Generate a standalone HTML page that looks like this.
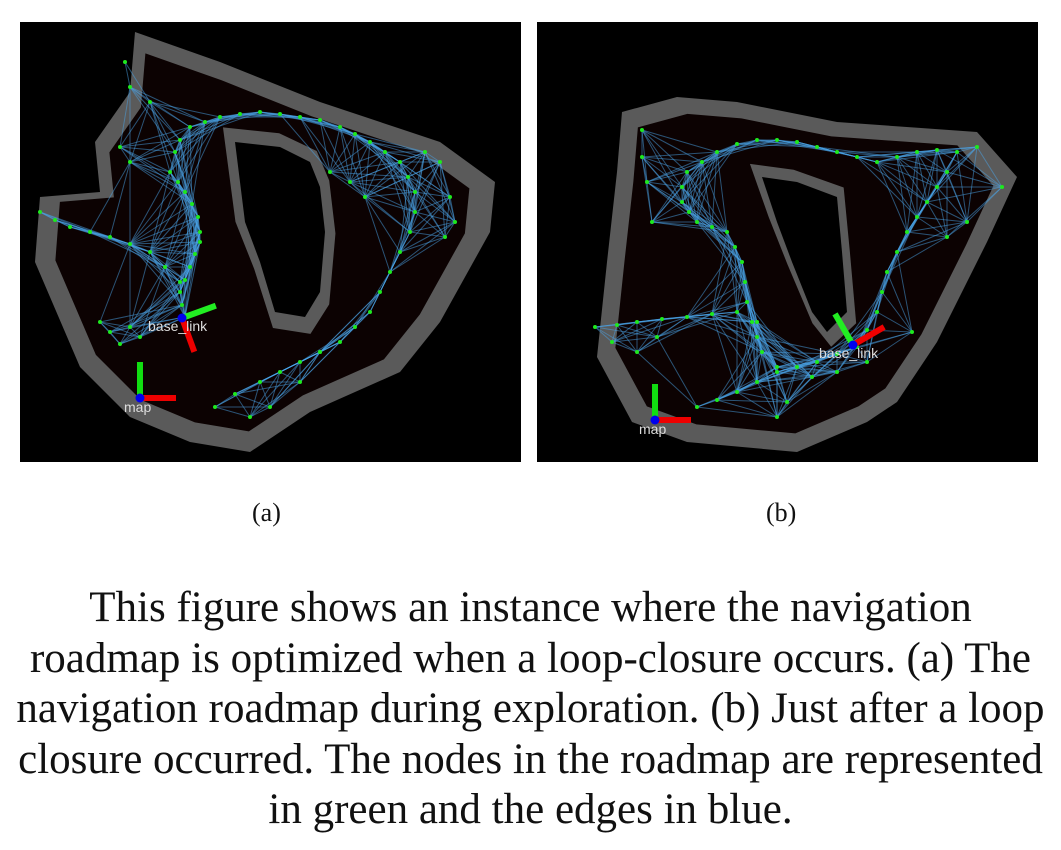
<!DOCTYPE html>
<html><head><meta charset="utf-8">
<style>
body{margin:0;background:#fff;width:1061px;height:850px;overflow:hidden;position:relative;font-family:"Liberation Serif",serif;}
.panel{position:absolute;top:22px;width:501px;height:440px;background:#000;}
.sub{position:absolute;top:498px;font-size:26px;color:#111;}
#caption{position:absolute;left:0;top:583px;width:1061px;text-align:center;font-size:43px;line-height:50.5px;color:#111;white-space:nowrap;}
</style></head><body>
<svg class="panel" id="pa" style="left:20px"></svg>
<svg class="panel" id="pb" style="left:537px"></svg>
<div class="sub" style="left:252px">(a)</div>
<div class="sub" style="left:766px">(b)</div>
<div id="caption">This figure shows an instance where the navigation<br>roadmap is optimized when a loop-closure occurs. (a) The<br>navigation roadmap during exploration. (b) Just after a loop<br>closure occurred. The nodes in the roadmap are represented<br>in green and the edges in blue.</div>
<script>
const outerA=[[115,10],[200,40],[300,80],[420,120],[475,160],[470,210],[420,300],[380,350],[290,390],[230,430],[170,420],[110,395],[60,345],[15,240],[20,175],[80,170],[75,120],[110,70]];
const holeA=[[215,120],[260,125],[290,140],[300,165],[305,210],[300,270],[285,295],[255,290],[240,240],[225,200],[220,160]];
const nodesA=[[195,385],[215,372],[240,360],[260,350],[280,340],[300,330],[320,320],[335,305],[350,290],[360,270],[370,250],[380,230],[390,210],[395,190],[395,170],[388,155],[380,140],[365,130],[350,120],[335,112],[320,105],[300,98],[280,95],[260,92],[240,90],[220,92],[200,95],[185,100],[170,105],[160,118],[155,130],[150,150],[158,160],[165,170],[172,182],[178,195],[180,210],[180,220],[175,232],[170,245],[165,258],[160,270],[162,283],[165,295],[20,190],[35,198],[50,205],[70,210],[90,215],[110,222],[130,230],[145,245],[160,260],[80,300],[90,310],[100,322],[110,305],[120,315],[105,40],[110,65],[130,80],[100,125],[110,140],[405,130],[420,140],[430,175],[435,200],[425,215],[345,175],[330,160],[310,150],[300,330],[280,360],[250,385],[230,395]];
const outerB=[[85,90],[140,75],[200,80],[300,100],[440,110],[480,155],[450,220],[400,320],[360,380],[330,400],[260,430],[150,420],[95,400],[60,335],[70,240],[80,150]];
const holeB=[[225,155],[260,160],[300,175],[305,230],[310,290],[290,310],[275,290],[255,240],[240,200]];
const nodesB=[[160,385],[180,378],[200,370],[220,360],[240,350],[260,345],[280,340],[300,332],[320,325],[330,308],[340,290],[345,270],[350,250],[360,230],[370,210],[380,195],[390,180],[400,165],[410,150],[420,130],[400,128],[380,130],[360,135],[340,140],[320,135],[300,130],[280,125],[260,120],[240,118],[220,118],[200,122],[180,130],[165,140],[150,150],[145,165],[145,180],[152,190],[160,200],[175,205],[190,210],[198,225],[205,240],[208,260],[210,280],[215,300],[220,315],[225,330],[240,345],[58,305],[80,303],[100,300],[125,297],[150,295],[175,292],[200,290],[220,300],[75,320],[100,330],[120,315],[105,108],[110,160],[115,200],[105,135],[440,125],[465,165],[430,200],[410,215],[375,310],[330,340],[300,350],[275,355],[250,380],[240,395]];
function el(svg,tag,attrs){const e=document.createElementNS("http://www.w3.org/2000/svg",tag);for(const k in attrs)e.setAttribute(k,attrs[k]);svg.appendChild(e);return e;}
function pts(a){return a.map(p=>p.join(",")).join(" ");}
function draw(id,outer,hole,nodes,mapP,baseP,baseAng){
 const s=document.getElementById(id);
 s.setAttribute("viewBox","0 0 501 440");
 let e=el(s,"polygon",{points:pts(outer),fill:"#5a5a5a"});
 
 const cx=outer.reduce((a,p)=>a+p[0],0)/outer.length,cy=outer.reduce((a,p)=>a+p[1],0)/outer.length;
 e=el(s,"polygon",{points:pts(outer.map(p=>[cx+(p[0]-cx)*0.9,cy+(p[1]-cy)*0.9])),fill:"#0c0202"});
 
 const hx=hole.reduce((a,p)=>a+p[0],0)/hole.length,hy=hole.reduce((a,p)=>a+p[1],0)/hole.length;
 e=el(s,"polygon",{points:pts(hole.map(p=>[hx+(p[0]-hx)*1.25,hy+(p[1]-hy)*1.18])),fill:"#5a5a5a"});
 
 e=el(s,"polygon",{points:pts(hole),fill:"#000"});
 
 const g=el(s,"g",{stroke:"#4aa3e8","stroke-width":"1","stroke-opacity":"0.5"});
 
 for(let i=0;i<nodes.length;i++)for(let j=i+1;j<nodes.length;j++){
  const d=Math.hypot(nodes[i][0]-nodes[j][0],nodes[i][1]-nodes[j][1]);
  if(d<85){const l=el(g,"line",{x1:nodes[i][0],y1:nodes[i][1],x2:nodes[j][0],y2:nodes[j][1]});
   }
 }
 const gn=el(s,"g",{fill:"#1ee81e"});
 
 nodes.forEach(p=>{const c=el(gn,"circle",{cx:p[0],cy:p[1],r:2});
  });
 let m=el(s,"g",{});
 el(m,"line",{x1:mapP[0],y1:mapP[1],x2:mapP[0]+36,y2:mapP[1],stroke:"#ee0000","stroke-width":6});
 el(m,"line",{x1:mapP[0],y1:mapP[1],x2:mapP[0],y2:mapP[1]-36,stroke:"#11dd11","stroke-width":6});
 el(m,"circle",{cx:mapP[0],cy:mapP[1],r:4.5,fill:"#0000ee"});
 let t=el(m,"text",{x:mapP[0]-16,y:mapP[1]+14,fill:"#ddd","font-size":14,"font-family":"Liberation Sans, sans-serif"});t.textContent="map";
 let b=el(s,"g",{});
 const a=baseAng*Math.PI/180;
 el(b,"line",{x1:baseP[0],y1:baseP[1],x2:baseP[0]+36*Math.cos(a),y2:baseP[1]+36*Math.sin(a),stroke:"#ee0000","stroke-width":6});
 const a2=a-Math.PI/2;
 el(b,"line",{x1:baseP[0],y1:baseP[1],x2:baseP[0]+36*Math.cos(a2),y2:baseP[1]+36*Math.sin(a2),stroke:"#22ee22","stroke-width":6});
 el(b,"circle",{cx:baseP[0],cy:baseP[1],r:4.5,fill:"#0000ee"});
 t=el(b,"text",{x:baseP[0]-34,y:baseP[1]+13,fill:"#ddd","font-size":14,"font-family":"Liberation Sans, sans-serif"});t.textContent="base_link";
}
draw("pa",outerA,holeA,nodesA,[120,376],[162,296],70);
draw("pb",outerB,holeB,nodesB,[118,398],[316,323],-30);
</script>
</body></html>
